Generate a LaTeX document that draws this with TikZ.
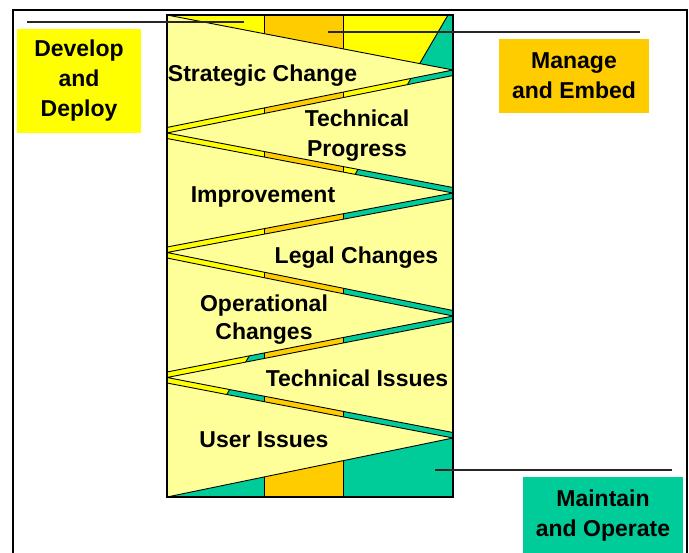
\documentclass[tikz,border=0pt]{standalone}
\usepackage{fontspec}
\setmainfont{Liberation Sans}
\definecolor{cyel}{HTML}{FFFF00}
\definecolor{corg}{HTML}{FFCC00}
\definecolor{cteal}{HTML}{00CC99}
\definecolor{cpale}{HTML}{FFFF99}
\begin{document}
\begin{tikzpicture}[x=1pt,y=-1pt,
  pale/.style={fill=cpale,draw=black,line width=0.9pt,line join=round},
  divline/.style={draw=black,line width=0.9pt},
  pointer/.style={draw=black!85,line width=1.2pt},
  lbl/.style={font=\fontsize{23}{30}\selectfont\bfseries,inner sep=0pt,align=center},
  phasebox/.style={font=\fontsize{23}{30}\selectfont\bfseries,inner sep=0pt,align=center}]
\useasboundingbox (0,0) rectangle (689,553);
\clip (0,0) rectangle (689,553);
\fill[white] (0,0) rectangle (689,553);
% outer frame
\draw[line width=2pt] (13,10.5) rectangle (687,600);
% corners of the main column
\coordinate (tl) at (167,15);
\coordinate (tr) at (453,15);
\coordinate (bl) at (167,497);
\coordinate (br) at (453,497);
% background colours
\fill[cyel] (tl) rectangle (br);
\fill[cteal] (448,15) -- (tr) -- (br) -- (bl) -- cycle;
\fill[corg] (264,15) rectangle (343,497);
\draw[divline] (264,15) -- (264,497);
\draw[divline] (343,15) -- (343,497);
\draw[divline] (448,15) -- (343,195.1);
\draw[divline] (264,330.6) -- (bl);
% pale triangles
\begin{scope}
\clip (tl) rectangle (br);
\path[pale] (167,15) -- (453,70) -- (167,127.5) -- cycle;
\path[pale] (453,75.5) -- (167,133) -- (453,187.5) -- cycle;
\path[pale] (167,138.5) -- (453,193) -- (167,247) -- cycle;
\path[pale] (453,198.5) -- (167,252.5) -- (453,310.5) -- cycle;
\path[pale] (167,258) -- (453,316) -- (167,372) -- cycle;
\path[pale] (453,321.5) -- (167,377.5) -- (453,432.5) -- cycle;
\path[pale] (167,383) -- (453,438) -- (167,497) -- cycle;
\end{scope}
\draw[line width=1.2pt] (tl) rectangle (br);
% labels in the column
\node[lbl,anchor=base] (strat) at (262.5,82) {Strategic Change};
\node[lbl] (techp) at (357,136) {Technical\\Progress};
\node[lbl,anchor=base] (impr) at (263,203) {Improvement};
\node[lbl,anchor=base] (legal) at (356.5,264) {Legal Changes};
\node[lbl,font=\fontsize{23}{28}\selectfont\bfseries] (oper) at (264,320) {Operational\\Changes};
\node[lbl,anchor=base] (techi) at (357,387) {Technical Issues};
\node[lbl,anchor=base] (user) at (264,448) {User Issues};
% phase boxes
\node[phasebox,fill=cyel,minimum width=124pt,minimum height=104pt] (dev) at (79,81) {Develop\\and\\Deploy};
\node[phasebox,fill=corg,minimum width=150pt,minimum height=74pt] (man) at (574,76) {Manage\\and Embed};
\node[phasebox,fill=cteal,minimum width=160pt,minimum height=78pt] (mai) at (603,516) {Maintain\\and Operate};
% pointer lines
\coordinate (p1a) at (27,22);
\coordinate (p1b) at (244,22);
\coordinate (p2a) at (328,32);
\coordinate (p2b) at (640,32);
\coordinate (p3a) at (435,470);
\coordinate (p3b) at (672,470);
\draw[pointer] (p1a) -- (p1b);
\draw[pointer] (p2a) -- (p2b);
\draw[pointer] (p3a) -- (p3b);
\end{tikzpicture}
\end{document}
